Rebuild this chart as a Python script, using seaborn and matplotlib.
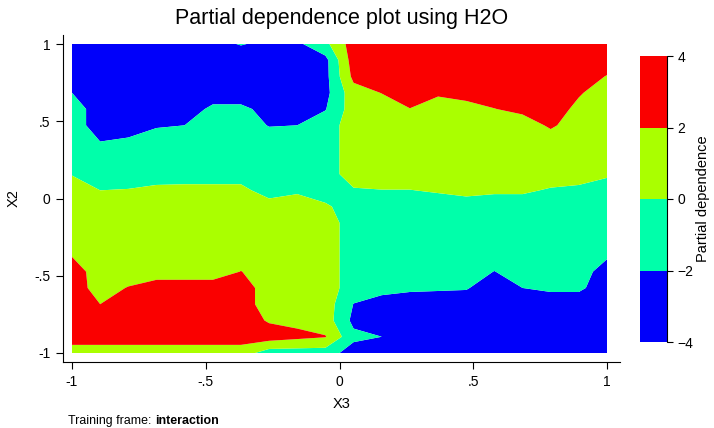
import numpy as np
import seaborn as sns
import matplotlib
matplotlib.use("Agg")
import matplotlib.pyplot as plt
from matplotlib.colors import ListedColormap, BoundaryNorm

# grid of the partial dependence surface (20 x 20)
x3 = np.linspace(-1, 1, 20)
x2 = np.linspace(-1, 1, 20)

# rows from X2 = 1 (top) down to X2 = -1 (bottom), columns X3 = -1 .. 1
pd_rows = [
    [-3, -3, -3, -3, -3, -2.5, -1.9, -2.4, -2.4, -0.5, 3, 3, 3, 3, 3, 3, 3, 3, 3, 3],
    [-3, -3, -3, -3, -3, -3, -3, -3, -3, -2.6, 3, 3, 3, 3, 3, 3, 3, 3, 3, 3],
    [-3, -3, -3, -3, -3, -3, -3, -3, -3, -2.6, 2.5, 3, 3, 3, 3, 3, 3, 3, 3, 1.9],
    [-2, -3, -3, -3, -3, -3, -3, -3, -3, -2.6, 1.2, 2.05, 3, 2.3, 2.5, 3, 3, 3, 2.2, 1],
    [-1, -3, -3, -3, -3, -1.6, -1.6, -2.6, -2.6, -2.1, 1, 1, 1.95, 1, 1.5, 1.95, 2.5, 3, 1.5, 1],
    [-1, -3, -2.6, -2.2, -2.0, -1, -1, -2.1, -2.0, -1, 1, 1, 1, 1, 1, 1, 1, 2.3, 1, 1],
    [-1, -2, -1.8, -1, -1, -1, -1, -1, -1, -1, 1, 1, 1, 1, 1, 1, 1, 1, 1, 1],
    [-1, -1, -1, -1, -1, -1, -1, -1, -1, -1, 1, 1, 1, 1, 1, 1, 1, 1, 1, 1],
    [-0.1, -1, -1, -1, -1, -1, -1, -1, -1, -1, 1, 1, 1, 1, 1, 1, 1, 1, 1, 0.3],
    [1, 0, 0.1, 0.5, 0.6, 0.6, 0.6, -1, -0.3, -1, -0.2, -0.05, -0.05, 0.2, 0.6, 0.3, 0.3, -0.2, -0.5, -1],
    [1, 1, 1, 1, 1, 1, 1, 1, 1, 0.3, -1, -1, -1, -1, -1, -1, -1, -1, -1, -1],
    [1, 1, 1, 1, 1, 1, 1, 1, 1, 1, -1, -1, -1, -1, -1, -1, -1, -1, -1, -1],
    [1, 1, 1, 1, 1, 1, 1, 1, 1, 1, -1, -1, -1, -1, -1, -1, -1, -1, -1, -1],
    [1.9, 1, 1, 1, 1, 1, 1, 1, 1, 1, -1, -1, -1, -1, -1, -1, -1, -1, -1, -1.7],
    [3, 1, 1, 1, 1, 1, 2.05, 1, 1, 1, -1, -1, -1, -1, -1, -2.05, -1, -1, -1, -3],
    [3, 1.2, 2.1, 3, 3, 3, 3, 1, 1, 1, -1, -1.2, -1.67, -1.77, -1.86, -3, -2.0, -1.67, -1.67, -3],
    [3, 2, 3, 3, 3, 3, 3, 1, 1, 1, -2.05, -3, -3, -3, -3, -3, -3, -3, -3, -3],
    [3, 2.5, 3, 3, 3, 3, 3, 1.8, 1.5, 1, -2.5, -3, -3, -3, -3, -3, -3, -3, -3, -3],
    [3, 3, 3, 3, 3, 3, 3, 3, 2.5, 2.1, -1.5, -2, -3, -3, -3, -3, -3, -3, -3, -3],
    [1, 1, 1, 1, 1, 1, 1, -1, -1, -1, -3, -3, -3, -3, -3, -3, -3, -3, -3, -3],
]

levels = [-4, -2, 0, 2, 4]
level_colors = ["#0000FA", "#00FFAA", "#AAFF00", "#FA0000"]
xticks = [-1, -0.5, 0, 0.5, 1]
xtick_labels = ["-1", "-.5", "0", ".5", "1"]
ytick_labels = ["-1", "-.5", "0", ".5", "1"]

sns.set_style("white")
plt.rcParams["font.family"] = ["Liberation Sans", "DejaVu Sans"]
plt.rcParams["text.color"] = "black"
plt.rcParams["axes.labelcolor"] = "black"
plt.rcParams["xtick.color"] = "black"
plt.rcParams["ytick.color"] = "black"

Z = np.array(pd_rows)[::-1]
X, Y = np.meshgrid(x3, x2)

fig = plt.figure(figsize=(7.14, 4.28), dpi=100)
ax = fig.add_axes([63 / 714, 1 - 362 / 428, 557 / 714, 327 / 428])

cmap = ListedColormap(level_colors)
norm = BoundaryNorm(levels, cmap.N)
cs = ax.contourf(X, Y, Z, levels=levels, cmap=cmap, norm=norm, antialiased=True)

ax.set_xlim(-1 - 9 / 267.5, 1 + 13 / 267.5)
ax.set_ylim(-1 - 9 / 154.5, 1 + 9 / 154.5)
ax.set_xticks(xticks)
ax.set_xticklabels(xtick_labels)
ax.set_yticks(xticks)
ax.set_yticklabels(ytick_labels)
ax.tick_params(axis="both", direction="out", length=5, width=0.8, color="black",
               labelcolor="black", labelsize=10, pad=4, left=True, bottom=True)
sns.despine(ax=ax)
for side in ["left", "bottom"]:
    ax.spines[side].set_color("black")
    ax.spines[side].set_linewidth(0.8)

ax.set_xlabel("X3", fontsize=10.5, labelpad=6)
ax.set_ylabel("X2", fontsize=10.5, labelpad=10)
ax.set_title("Partial dependence plot using H2O", fontsize=15.5, pad=8)

cax = fig.add_axes([640 / 714, 1 - 342 / 428, 27 / 714, 286 / 428])
cbar = fig.colorbar(cs, cax=cax, ticks=levels)
cbar.outline.set_visible(False)
cax.axvline(1, color="black", lw=0.8, clip_on=False)
cax.tick_params(direction="out", length=4, width=0.8, labelsize=10, color="black",
                labelcolor="black")
cbar.set_label("Partial dependence", fontsize=10.5, labelpad=2)

t1 = fig.text(68 / 714, 1 - 421 / 428, "Training frame: ", fontsize=8.9, va="center")
fig.canvas.draw()
bb = t1.get_window_extent()
fig.text(bb.x1 / fig.bbox.width, 1 - 421 / 428, "interaction", fontsize=8.9,
         fontweight="bold", va="center")

plt.savefig("out.png", dpi=100)
